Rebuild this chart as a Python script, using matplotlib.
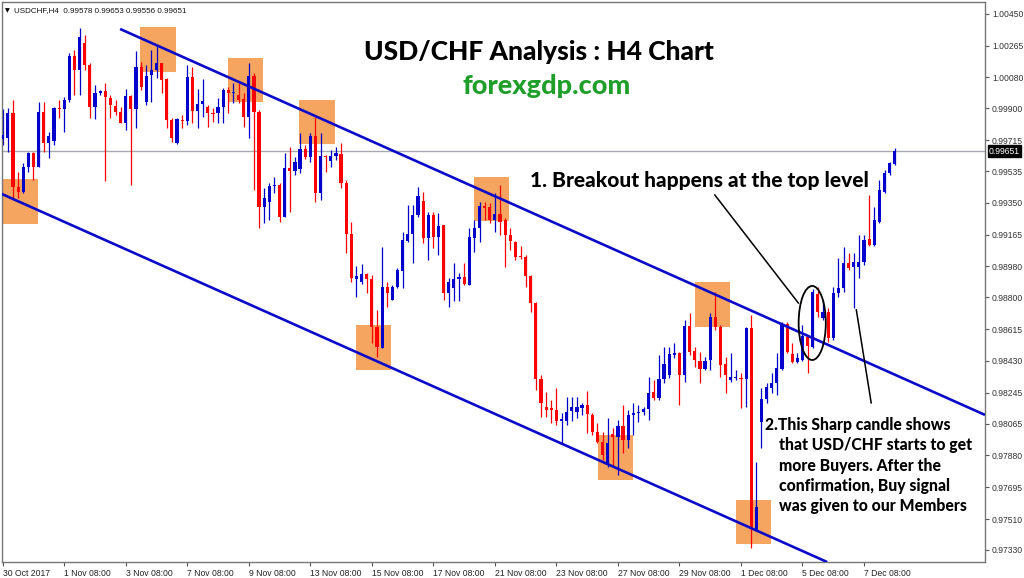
import numpy as np
import matplotlib.pyplot as plt
import matplotlib.transforms as mtransforms
from matplotlib.patches import Rectangle, Ellipse

# USDCHF H4 candles, 30 Oct 2017 .. 7 Dec 2017
opens = [
    .99723, .99729, .99874, .99443, .99414, .99559, .99641, .99559, .99879, .99699,
    .99711, .99903, .99897, .99949, 1.00205, 1.00124, 1.00281, 1.00153, .99908, .99990,
    1.00001, .99961, .99914, .99879, .99815, .99972, .99897, 1.00141, .99937, 1.00095,
    1.00124, 1.00164, 1.00071, .99833, .99699, .99833, .99827, 1.00083, .99885, .99926,
    .99908, .99874, .99874, .99908, 1.00007, .99990, .99978, .99955, .99850, 1.00089,
    .99879, .99326, .99355, .99450, .99454, .99268, .99553, .99536, .99548, .99664,
    .99617, .99741, .99408, .99623, .99594, .99623, .99635, .99467, .99169, .98907,
    .98890, .98936, .98907, .98628, .98506, .98861, .98785, .98861, .98954, .99129,
    .99169, .99280, .99361, .99146, .99280, .99152, .99222, .98826, .98855, .98907,
    .98919, .98872, .99146, .99204, .99332, .99326, .99251, .99286, .99251, .99164,
    .99123, .99041, .99035, .98924, .98766, .98325, .98162, .98156, .98145, .98081,
    .98081, .98139, .98133, .98156, .98174, .98116, .98017, .97959, .97826, .98005,
    .97988, .98052, .97970, .98116, .98127, .98133, .98151, .98249, .98215, .98325,
    .98348, .98465, .98476, .98348, .98634, .98488, .98430, .98383, .98436, .98686,
    .98628, .98413, .98319, .98331, .98331, .98325, .98622, .97446, .98075, .98209,
    .98273, .98302, .98383, .98645, .98471, .98424, .98436, .98570, .98511, .98820,
    .98680, .98715, .98564, .98826, .98855, .99000, .98977, .98977, .99006, .99141,
    .99106, .99239, .99414, .99524, .99577]
highs = [
    .99897, .99903, .99949, .99530, .99582, .99647, .99647, .99937, .99937, .99763,
    .99908, .99949, .99966, 1.00223, 1.00240, 1.00368, 1.00327, 1.00164, 1.00036, 1.00007,
    1.00048, .99978, .99949, .99908, 1.00013, .99978, 1.00234, 1.00170, 1.00153, 1.00240,
    1.00269, 1.00164, 1.00077, .99844, .99844, .99862, 1.00153, 1.00141, 1.00013, 1.00071,
    .99920, .99903, .99961, 1.00019, 1.00025, 1.00048, 1.00048, .99990, 1.00164, 1.00106,
    .99891, .99438, .99467, .99501, .99467, .99641, .99676, .99617, .99757, .99687,
    .99757, .99850, .99757, .99629, .99658, .99676, .99699, .99485, .99239, .98983,
    .98994, .98942, .98930, .98727, .99094, .98890, .98872, .98971, .99181, .99338,
    .99338, .99443, .99414, .99297, .99297, .99291, .99222, .98913, .99000, .98942,
    .99000, .99204, .99251, .99355, .99355, .99350, .99408, .99454, .99262, .99204,
    .99129, .99100, .99047, .98930, .98772, .98348, .98249, .98203, .98273, .98127,
    .98220, .98220, .98220, .98186, .98255, .98127, .98069, .98017, .98098, .98040,
    .98087, .98174, .98145, .98186, .98174, .98162, .98337, .98319, .98465, .98511,
    .98511, .98535, .98482, .98669, .98709, .98511, .98482, .98453, .98709, .98832,
    .98640, .98453, .98476, .98377, .98360, .98628, .98698, .97843, .98273, .98302,
    .98360, .98476, .98657, .98657, .98535, .98476, .98640, .98581, .98849, .98861,
    .98785, .98738, .98861, .99029, .99094, .99059, .99059, .99164, .99164, .99396,
    .99326, .99485, .99542, .99588, .99670]
lows = [
    .99687, .99647, .99379, .99379, .99408, .99530, .99485, .99559, .99647, .99612,
    .99687, .99844, .99763, .99937, .99978, .99978, 1.00124, .99844, .99839, .99978,
    .99479, .99844, .99862, .99815, .99775, .99454, .99786, 1.00007, .99920, .99937,
    1.00077, .99990, .99786, .99705, .99693, .99786, .99804, .99815, .99786, .99850,
    .99792, .99821, .99815, .99815, .99874, .99932, .99932, .99792, .99729, .99426,
    .99204, .99233, .99251, .99408, .99239, .99268, .99297, .99513, .99524, .99606,
    .99588, .99355, .99367, .99530, .99559, .99600, .99438, .99059, .98890, .98802,
    .98878, .98826, .98535, .98453, .98506, .98744, .98785, .98855, .98855, .99123,
    .99000, .99268, .99117, .99018, .99088, .99047, .98785, .98744, .98779, .98779,
    .98872, .98872, .99064, .99123, .99251, .99233, .99181, .99164, .98977, .99076,
    .99018, .99024, .98861, .98715, .98261, .98104, .98104, .98069, .98058, .97947,
    .98058, .98081, .98098, .98116, .98011, .97999, .97953, .97855, .97814, .97814,
    .97767, .97896, .97924, .97999, .98075, .98116, .98087, .98203, .98203, .98302,
    .98331, .98447, .98174, .98308, .98465, .98395, .98302, .98377, .98377, .98611,
    .98337, .98244, .98308, .98319, .98156, .98162, .97342, .97446, .97924, .98186,
    .98244, .98232, .98377, .98476, .98418, .98418, .98430, .98360, .98506, .98686,
    .98669, .98541, .98553, .98802, .98832, .98959, .98738, .98913, .98988, .99100,
    .99100, .99233, .99408, .99513, .99571]
closes = [
    .99746, .99874, .99443, .99414, .99559, .99641, .99559, .99879, .99699, .99741,
    .99903, .99897, .99949, 1.00205, 1.00124, 1.00316, 1.00153, .99908, .99990, 1.00001,
    .99966, .99920, .99879, .99815, .99972, .99897, 1.00141, 1.00025, 1.00089, 1.00124,
    1.00164, 1.00065, .99833, .99729, .99839, .99827, 1.00083, .99885, .99926, .99943,
    .99874, .99868, .99908, 1.00007, .99990, .99996, .99949, .99850, 1.00089, .99879,
    .99326, .99379, .99450, .99454, .99268, .99553, .99536, .99588, .99664, .99617,
    .99741, .99408, .99623, .99617, .99623, .99641, .99467, .99169, .98913, .98924,
    .98936, .98907, .98628, .98511, .98861, .98826, .98861, .98959, .99135, .99169,
    .99280, .99391, .99146, .99280, .99152, .99216, .98826, .98890, .98907, .98919,
    .98878, .99152, .99204, .99332, .99320, .99251, .99286, .99239, .99164, .99129,
    .99035, .99035, .98924, .98766, .98325, .98186, .98145, .98145, .98081, .98093,
    .98133, .98162, .98162, .98174, .98122, .98017, .97959, .97884, .97953, .97988,
    .98052, .97970, .98116, .98127, .98133, .98151, .98244, .98215, .98325, .98413,
    .98471, .98476, .98348, .98634, .98482, .98436, .98383, .98430, .98686, .98628,
    .98407, .98348, .98337, .98337, .98325, .98622, .97458, .97582, .98209, .98278,
    .98302, .98389, .98645, .98482, .98424, .98447, .98576, .98517, .98832, .98715,
    .98715, .98564, .98826, .98855, .99000, .98971, .99006, .99006, .99135, .99106,
    .99251, .99426, .99524, .99582, .99651]

x_labels = ["30 Oct 2017", "1 Nov 08:00", "3 Nov 08:00", "7 Nov 08:00", "9 Nov 08:00",
            "13 Nov 08:00", "15 Nov 08:00", "17 Nov 08:00", "21 Nov 08:00", "23 Nov 08:00",
            "27 Nov 08:00", "29 Nov 08:00", "1 Dec 08:00", "5 Dec 08:00", "7 Dec 08:00"]
price_ticks = [1.00450, 1.00265, 1.00080, 0.99900, 0.99715, 0.99535, 0.99350, 0.99165, 0.98980,
               0.98800, 0.98615, 0.98430, 0.98245, 0.98065, 0.97880, 0.97695, 0.97510, 0.97330]
last_price = 0.99651
header = "USDCHF,H4  0.99578 0.99653 0.99556 0.99651"

# channel lines (bar, price) end points
upper_channel = [(22.9, 1.00362), (191.6, 0.98116)]
lower_channel = [(-0.2, 0.99402), (160.8, 0.97260)]
# highlighted touches (bar, price)
touch_bar = [3.4, 30.3, 47.4, 61.3, 72.3, 95.4, 119.5, 138.5, 146.5]
touch_price = [0.99358, 1.00243, 1.00065, 0.99821, 0.98509, 0.99373, 0.97868, 0.98759, 0.97493]

BLUE = "#0000cc"
RED = "#ff0000"

plt.rcParams['font.family'] = ['Liberation Sans', 'DejaVu Sans']

fig = plt.figure(figsize=(10.24, 5.78), dpi=100)
ax = fig.add_axes([2/1024, 16/578, 983/1024, 560/578])

n = len(opens)
x = np.arange(n)
o = np.array(opens); h = np.array(highs); l = np.array(lows); c = np.array(closes)
up = c >= o
cols = np.where(up, BLUE, RED)

# orange boxes behind candles
box_w, box_h = 6.9, 0.00259
for bx, by in zip(touch_bar, touch_price):
    ax.add_patch(Rectangle((bx - box_w/2, by - box_h/2), box_w, box_h,
                           facecolor="#f5a560", edgecolor="none", zorder=1))

ax.axhline(last_price, color="#a8aab0", lw=1, zorder=1.5)

ax.vlines(x, l, h, colors=cols, lw=0.9, zorder=2)
body = np.maximum(np.abs(c - o), 0.00003)
ax.bar(x, body, bottom=np.minimum(o, c), width=0.62, color=cols, zorder=3, linewidth=0)

for (x0, y0), (x1, y1) in [upper_channel, lower_channel]:
    ax.plot([x0, x1], [y0, y1], color="#0a0ac8", lw=1.9, zorder=4, solid_capstyle='butt')

# annotation callouts
ax.plot([138.9, 155.2], [0.99396, 0.98767], color="black", lw=1.1, zorder=5)
ax.plot([166.5, 169.4], [0.98727, 0.98186], color="black", lw=1.1, zorder=5)
ax.add_patch(Ellipse((157.9, 0.98651), 5.3, 0.00431, facecolor="none",
                     edgecolor="black", lw=1.3, zorder=5))

ax.set_xlim(-0.14, 191.6)
ax.set_ylim(0.97260, 1.00519)

ax.set_xticks(np.arange(0, 12 * len(x_labels), 12))
ax.set_xticklabels(x_labels, ha="left", fontsize=6.2, color="#222222")
ax.tick_params(axis="x", direction="out", length=3, width=0.8, color="#555555", pad=2)

ax.yaxis.tick_right()
ax.set_yticks(price_ticks)
ax.set_yticklabels(["%.5f" % p for p in price_ticks], fontsize=6.2, color="#333333")
ax.tick_params(axis="y", direction="out", length=3, width=0.8, color="#555555", pad=2)

for s in ax.spines.values():
    s.set_color("#777777")
    s.set_linewidth(1)

trans = mtransforms.blended_transform_factory(ax.transAxes, ax.transData)
ax.text(1.004, last_price, "%.5f" % last_price, transform=trans, fontsize=6.2, color="white",
        va="center", ha="left",
        bbox=dict(boxstyle="square,pad=0.15", facecolor="black", edgecolor="black"), zorder=6)

ax.text(0.003, 0.985, "\u25bc", transform=ax.transAxes, fontsize=4.5, va="center",
        family=['DejaVu Sans'])
ax.text(0.012, 0.985, header, transform=ax.transAxes, fontsize=5.8, va="center", color="#111111")

bold = dict(family=['Lato', 'DejaVu Sans'], fontweight="black")
fig.text(539/1024, 1 - 52/578, "USD/CHF Analysis : H4 Chart", ha="center", va="center",
         fontsize=19, color="black", **bold)
fig.text(547/1024, 1 - 86/578, "forexgdp.com", ha="center", va="center",
         fontsize=19.5, color="#1f9f2a", **bold)
fig.text(530/1024, 1 - 181/578, "1. Breakout happens at the top level", ha="left", va="center",
         fontsize=15, color="black", **bold)

note_lines = ["2.This Sharp candle shows", "that USD/CHF starts to get", "more Buyers. After the",
              "confirmation, Buy signal", "was given to our Members"]
for k, line in enumerate(note_lines):
    left = 765 if k == 0 else 779
    fig.text(left/1024, 1 - (425 + 20.3*k)/578, line, ha="left", va="center",
             fontsize=11.3, color="black", **bold)

fig.savefig("out.png", dpi=100, facecolor="white")
